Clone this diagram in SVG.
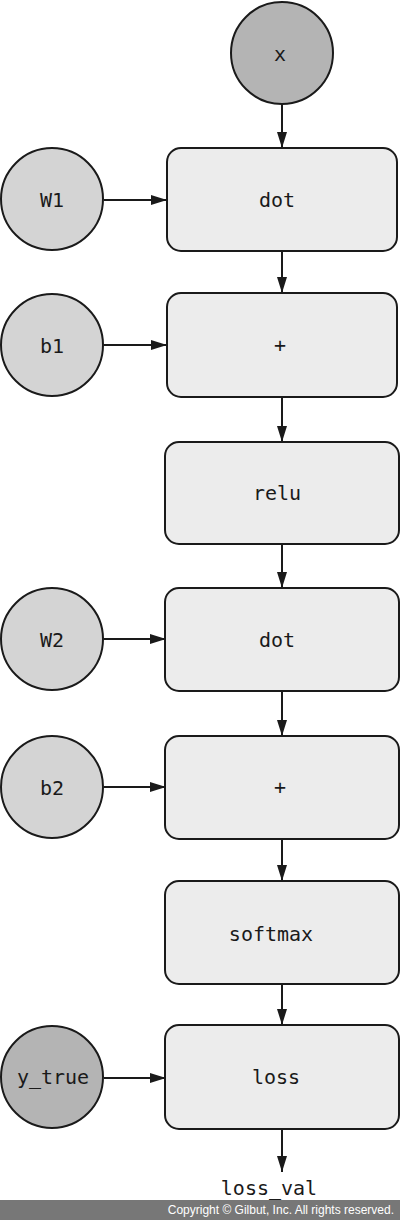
<svg xmlns="http://www.w3.org/2000/svg" width="400" height="1220" viewBox="0 0 400 1220">
<style>
.box{fill:#ececec;stroke:#1a1a1a;stroke-width:2}
.in{fill:#d4d4d4;stroke:#1a1a1a;stroke-width:2}
.inD{fill:#b4b4b4;stroke:#1a1a1a;stroke-width:2}
.lbl{font-family:"DejaVu Sans Mono","Liberation Mono",monospace;font-size:20px;fill:#1a1a1a;text-anchor:middle}
.edge{stroke:#1a1a1a;stroke-width:2;fill:none;marker-end:url(#arr)}
.copy{font-family:"Liberation Sans",Arial,sans-serif;font-size:12px;fill:#ffffff;text-anchor:end}
</style>
<defs>
<marker id="arr" viewBox="0 0 16 10" refX="16" refY="5" markerWidth="16" markerHeight="10" markerUnits="userSpaceOnUse" orient="auto">
<path d="M0,0 L16,5 L0,10 Z" fill="#1a1a1a"/>
</marker>
</defs>
<rect width="400" height="1220" fill="#ffffff"/>
<g id="connectors">
<line class="edge" x1="282" y1="104" x2="282" y2="148"/>
<line class="edge" x1="104" y1="200" x2="167" y2="200"/>
<line class="edge" x1="282" y1="251" x2="282" y2="293"/>
<line class="edge" x1="104" y1="345" x2="167" y2="345"/>
<line class="edge" x1="282" y1="397" x2="282" y2="442"/>
<line class="edge" x1="282" y1="544" x2="282" y2="588"/>
<line class="edge" x1="104" y1="639" x2="166" y2="639"/>
<line class="edge" x1="282" y1="691" x2="282" y2="736"/>
<line class="edge" x1="104" y1="787" x2="166" y2="787"/>
<line class="edge" x1="282" y1="839" x2="282" y2="881"/>
<line class="edge" x1="282" y1="984" x2="282" y2="1025"/>
<line class="edge" x1="104" y1="1078" x2="166" y2="1078"/>
<line class="edge" x1="282" y1="1129" x2="282" y2="1172"/>
</g>
<g id="node-x"><circle class="inD" cx="282" cy="53" r="51"/><text class="lbl" x="280" y="61">x</text></g>
<g id="node-W1"><circle class="in" cx="52" cy="199" r="51"/><text class="lbl" x="52" y="207">W1</text></g>
<g id="node-dot1"><rect class="box" x="167" y="148" width="230" height="103" rx="14"/><text class="lbl" x="277" y="207">dot</text></g>
<g id="node-b1"><circle class="in" cx="52" cy="345" r="51"/><text class="lbl" x="52" y="353">b1</text></g>
<g id="node-add1"><rect class="box" x="167" y="293" width="230" height="104" rx="14"/><text class="lbl" x="280" y="352">+</text></g>
<g id="node-relu"><rect class="box" x="165" y="442" width="234" height="102" rx="14"/><text class="lbl" x="277" y="500">relu</text></g>
<g id="node-W2"><circle class="in" cx="52" cy="639" r="51"/><text class="lbl" x="52" y="647">W2</text></g>
<g id="node-dot2"><rect class="box" x="165" y="588" width="234" height="103" rx="14"/><text class="lbl" x="277" y="647">dot</text></g>
<g id="node-b2"><circle class="in" cx="52" cy="787" r="51"/><text class="lbl" x="52" y="795">b2</text></g>
<g id="node-add2"><rect class="box" x="165" y="736" width="234" height="103" rx="14"/><text class="lbl" x="280" y="794">+</text></g>
<g id="node-softmax"><rect class="box" x="165" y="881" width="234" height="103" rx="14"/><text class="lbl" x="271" y="941">softmax</text></g>
<g id="node-y_true"><circle class="inD" cx="52" cy="1077" r="51"/><text class="lbl" x="53" y="1084">y_true</text></g>
<g id="node-loss"><rect class="box" x="165" y="1025" width="234" height="104" rx="14"/><text class="lbl" x="276" y="1084">loss</text></g>
<g id="node-loss_val"><text class="lbl" x="269" y="1195">loss_val</text></g>
<rect x="0" y="1200" width="400" height="20" fill="#777777"/>
<text class="copy" x="394" y="1214">Copyright © Gilbut, Inc. All rights reserved.</text>
</svg>
